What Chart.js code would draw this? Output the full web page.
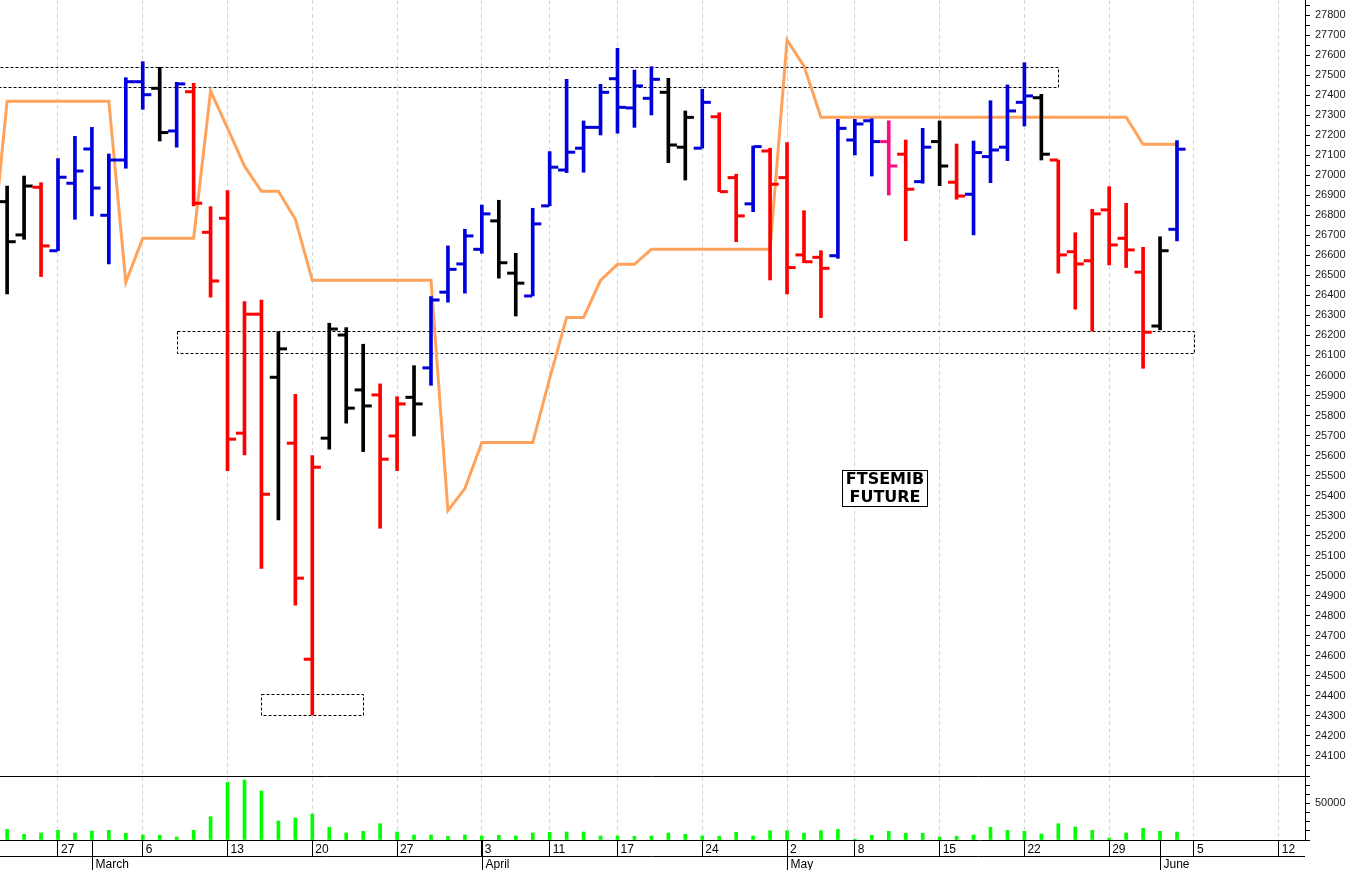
<!DOCTYPE html>
<html>
<head>
<meta charset="utf-8">
<title>FTSEMIB Future</title>
<script src="https://cdn.jsdelivr.net/npm/chart.js@4/dist/chart.umd.min.js"></script>
<style>
  html, body { margin: 0; padding: 0; background: #ffffff; }
  canvas { display: block; }
</style>
</head>
<body>
<canvas id="grafico" width="1352" height="870"></canvas>
<script>
// Sesiones del futuro FTSEMIB (22 feb - 2 jun)
const fechas = [
  "22/2","23/2","24/2","27/2","28/2",
  "1/3","2/3","3/3","6/3","7/3","8/3","9/3","10/3","13/3","14/3","15/3","16/3","17/3",
  "20/3","21/3","22/3","23/3","24/3","27/3","28/3","29/3","30/3","31/3",
  "3/4","4/4","5/4","6/4","11/4","12/4","13/4","14/4","17/4","18/4","19/4","20/4","21/4",
  "24/4","25/4","26/4","27/4","28/4",
  "2/5","3/5","4/5","5/5","8/5","9/5","10/5","11/5","12/5","15/5","16/5","17/5","18/5","19/5",
  "22/5","23/5","24/5","25/5","26/5","29/5","30/5","31/5",
  "1/6","2/6"
];

const aperturas = [
  26868, 26702, 26940, 26623, 26960, 27131, 26800, 27076, 27467, 27434,
  27221, 27417, 26715, 26785, 25712, 26306, 25991, 25662, 24583, 25687,
  26202, 25928, 25903, 25698, 25891, 26038, 26416, 26557, 26630, 26772,
  26511, 26397, 26847, 27026, 27135, 27239, 27482, 27336, 27384, 27414,
  27140, 27135, 27292, 26988, 26857, 27121, 26988, 26602, 26590, 26598,
  27176, 27272, 27168, 27105, 26968, 27168, 26965, 26905, 27093, 27140,
  27364, 27387, 27076, 26618, 26573, 26827, 26685, 26516, 26247, 26730
];
const maximos = [
  26946, 26996, 26963, 27083, 27194, 27239, 27106, 27487, 27567, 27539,
  27464, 27459, 26843, 26923, 26369, 26377, 26219, 25906, 25600, 26261,
  26239, 26156, 25958, 25894, 26049, 26394, 26647, 26730, 26851, 26875,
  26610, 26835, 27118, 27479, 27271, 27454, 27634, 27525, 27542, 27484,
  27321, 27429, 27312, 27005, 27146, 27135, 27163, 26823, 26623, 27279,
  27279, 27282, 27272, 27176, 27234, 27271, 27156, 27171, 27372, 27451,
  27562, 27404, 27076, 26713, 26830, 26943, 26860, 26640, 26693, 27173
];
const minimos = [
  26407, 26680, 26494, 26623, 26780, 26797, 26557, 27035, 27329, 27171,
  27140, 26847, 26391, 25525, 25603, 25036, 25279, 24853, 24305, 25632,
  25762, 25620, 25237, 25525, 25698, 25951, 26366, 26411, 26610, 26486,
  26297, 26397, 26847, 27013, 27015, 27201, 27210, 27239, 27301, 27063,
  26976, 27135, 26918, 26668, 26818, 26477, 26407, 26563, 26289, 26585,
  27101, 26996, 26901, 26673, 26960, 26948, 26880, 26702, 26963, 27073,
  27246, 27076, 26511, 26331, 26222, 26552, 26539, 26036, 26228, 26672
];
const cierres = [
  26668, 26946, 26647, 26990, 27021, 26936, 27076, 27467, 27402, 27213,
  27456, 26860, 26472, 25682, 26306, 25407, 26133, 24988, 25542, 26232,
  25837, 25848, 25582, 25858, 25858, 26377, 26530, 26697, 26807, 26563,
  26461, 26757, 27040, 27115, 27239, 27414, 27339, 27446, 27479, 27151,
  27289, 27364, 26918, 26797, 27143, 26955, 26539, 26568, 26535, 27234,
  27256, 27168, 27046, 26930, 27140, 27046, 26896, 27113, 27126, 27321,
  27396, 27105, 26602, 26557, 26807, 26652, 26627, 26216, 26623, 27130
];
// estado del indicador en cada barra
const estados = [
  "neutro","neutro","baja","alza","alza","alza","alza","alza","alza","neutro",
  "alza","baja","baja","baja","baja","baja","neutro","baja","baja","neutro",
  "neutro","neutro","baja","baja","neutro","alza","alza","alza","alza","neutro",
  "neutro","alza","alza","alza","alza","alza","alza","alza","alza","neutro",
  "neutro","alza","baja","baja","alza","baja","baja","baja","baja","alza",
  "alza","alza","especial","baja","alza","neutro","baja","alza","alza","alza",
  "alza","neutro","baja","baja","baja","baja","baja","baja","neutro","alza"
];
const volumenes = [
  14460, 7700, 9460, 13110, 9460, 12160, 13110, 9050, 6760, 6350,
  4050, 13110, 31490, 77980, 81080, 66220, 25680, 29730, 35140, 17160,
  9460, 11760, 22030, 10810, 6760, 6760, 5000, 6760, 5410, 6350,
  5410, 9460, 10410, 10810, 10810, 5410, 5410, 5000, 5410, 9460,
  7700, 5410, 5000, 10410, 5410, 12570, 12570, 9050, 12570, 14460,
  1350, 6350, 11760, 9050, 9050, 4050, 5000, 6760, 17160, 13110,
  11760, 8110, 22030, 17570, 13110, 2700, 9460, 15810, 11760, 10810
];

// linea naranja: empieza una sesion antes de la primera barra visible
const inicioTendencia = -1;
const tendencia = [
  26520,
  27370, 27370, 27370, 27370, 27370, 27370, 27370, 26465, 26685, 26685,
  26685, 26685, 27420, 27235, 27045, 26920, 26920, 26780, 26475, 26475,
  26475, 26475, 26475, 26475, 26475, 26475, 25325, 25435, 25665, 25665,
  25665, 25665, 25985, 26290, 26290, 26475, 26555, 26555, 26630, 26630,
  26630, 26630, 26630, 26630, 26630, 26630, 27675, 27545, 27290, 27290,
  27290, 27290, 27290, 27290, 27290, 27290, 27290, 27290, 27290, 27290,
  27290, 27290, 27290, 27290, 27290, 27290, 27290, 27155, 27155, 27155
];

// zonas marcadas con rectangulo punteado (indice de sesion y precios)
const zonaDesde = [-1, 10, 15];
const zonaHasta = [62, 70, 21];
const zonaTecho = [27540, 26220, 24410];
const zonaPiso = [27440, 26110, 24305];

// eje de fechas
const posicionesDia = [3, 8, 13, 18, 23, 28, 32, 36, 41, 46, 50, 55, 60, 65, 70, 75];
const etiquetasDia = ["27", "6", "13", "20", "27", "3", "11", "17", "24", "2", "8", "15", "22", "29", "5", "12"];
const posicionesMes = [5, 28, 46, 68];
const meses = ["March", "April", "May", "June"];
const marcaVolumen = 50000;

const titulo = ["FTSEMIB", "FUTURE"];
const tituloDia = 51.7;
const tituloPrecio = 25440;

console.log(fechas.length, aperturas.length, tendencia.length);

const coloresEstado = { alza: "#0000dd", baja: "#ff0000", neutro: "#000000", especial: "#ff0a80" };
const coloresBarras = estados.map((e) => coloresEstado[e]);
const desplazamiento = 0.27;

Chart.defaults.font.family = '"Liberation Sans", Arial, sans-serif';
Chart.defaults.color = "#111111";

// rectangulos punteados
const pluginZonas = {
  id: "zonas",
  beforeDatasetsDraw(chart) {
    const ctx = chart.ctx;
    const x = chart.scales.x;
    const y = chart.scales.y;
    const area = chart.chartArea;
    ctx.save();
    ctx.beginPath();
    ctx.rect(area.left, y.top, area.right - area.left, y.bottom - y.top);
    ctx.clip();
    ctx.strokeStyle = "#000000";
    ctx.lineWidth = 1;
    ctx.setLineDash([3, 2]);
    for (let i = 0; i < zonaDesde.length; i++) {
      const x1 = Math.round(x.getPixelForValue(zonaDesde[i])) + 0.5;
      const x2 = Math.round(x.getPixelForValue(zonaHasta[i])) + 0.5;
      const y1 = Math.round(y.getPixelForValue(zonaTecho[i])) + 0.5;
      const y2 = Math.round(y.getPixelForValue(zonaPiso[i])) + 0.5;
      ctx.strokeRect(x1, y1, x2 - x1, y2 - y1);
    }
    ctx.restore();
  }
};

// separador de paneles, fila de meses, etiqueta de volumen y cartel
const pluginMarco = {
  id: "marco",
  afterDraw(chart) {
    const ctx = chart.ctx;
    const x = chart.scales.x;
    const y = chart.scales.y;
    const yv = chart.scales.yv;
    const area = chart.chartArea;
    ctx.save();
    ctx.strokeStyle = "#000000";
    ctx.lineWidth = 1;

    const div = Math.round(yv.top) + 0.5;
    ctx.beginPath();
    ctx.moveTo(area.left, div);
    ctx.lineTo(area.right, div);
    const fila = Math.round(x.top) + 16.5;
    ctx.moveTo(area.left, fila);
    ctx.lineTo(area.right, fila);
    ctx.stroke();

    ctx.fillStyle = "#000000";
    ctx.font = '12px "Liberation Sans", Arial, sans-serif';
    ctx.textBaseline = "alphabetic";
    ctx.textAlign = "left";
    for (let i = 0; i < meses.length; i++) {
      const px = Math.round(x.getPixelForValue(posicionesMes[i])) + 0.5;
      ctx.beginPath();
      ctx.moveTo(px, x.top);
      ctx.lineTo(px, x.bottom);
      ctx.stroke();
      ctx.fillText(meses[i], px + 3, x.top + 28);
    }

    // etiqueta del panel de volumen
    ctx.fillStyle = "#1a1a1a";
    ctx.font = '11px "Liberation Sans", Arial, sans-serif';
    ctx.textBaseline = "middle";
    ctx.fillText(String(marcaVolumen), yv.left + 10, yv.getPixelForValue(marcaVolumen));

    // cartel del titulo
    const cx = Math.round(x.getPixelForValue(tituloDia));
    const cy = Math.round(y.getPixelForValue(tituloPrecio));
    ctx.fillStyle = "#ffffff";
    ctx.fillRect(cx - 42, cy - 18, 85, 36);
    ctx.strokeRect(cx - 42 + 0.5, cy - 18 + 0.5, 85, 36);
    ctx.fillStyle = "#000000";
    ctx.font = 'bold 16px "DejaVu Sans", Verdana, sans-serif';
    ctx.textAlign = "center";
    ctx.textBaseline = "middle";
    ctx.fillText(titulo[0], cx + 1, cy - 8);
    ctx.fillText(titulo[1], cx + 1, cy + 10);
    ctx.restore();
  }
};

const quitarRelleno = (s) => {
  s.paddingTop = 0;
  s.paddingBottom = 0;
  s.paddingLeft = 0;
  s.paddingRight = 0;
};

const grafico = document.getElementById("grafico");

new Chart(grafico, {
  type: "bar",
  data: {
    datasets: [
      {
        type: "bar",
        label: "rango",
        data: maximos.map((h, i) => ({ x: i, y: [minimos[i], h] })),
        backgroundColor: coloresBarras,
        barThickness: 3,
        grouped: false,
        yAxisID: "y",
        order: 1
      },
      {
        type: "scatter",
        label: "apertura",
        data: aperturas.map((v, i) => ({ x: i - desplazamiento, y: v })),
        pointStyle: "line",
        pointRadius: 4,
        pointHoverRadius: 4,
        pointBorderWidth: 3,
        pointBorderColor: coloresBarras,
        yAxisID: "y",
        order: 0
      },
      {
        type: "scatter",
        label: "cierre",
        data: cierres.map((v, i) => ({ x: i + desplazamiento, y: v })),
        pointStyle: "line",
        pointRadius: 4,
        pointHoverRadius: 4,
        pointBorderWidth: 3,
        pointBorderColor: coloresBarras,
        yAxisID: "y",
        order: 0
      },
      {
        type: "line",
        label: "tendencia",
        data: tendencia.map((v, i) => ({ x: i + inicioTendencia, y: v })),
        borderColor: "#ffa35c",
        borderWidth: 3,
        pointRadius: 0,
        tension: 0,
        fill: false,
        yAxisID: "y",
        order: 5
      },
      {
        type: "bar",
        label: "volumen",
        data: volumenes.map((v, i) => ({ x: i, y: v })),
        backgroundColor: "#00ff00",
        barThickness: 3,
        grouped: false,
        yAxisID: "yv",
        order: 1
      }
    ]
  },
  options: {
    responsive: false,
    animation: false,
    events: [],
    layout: { padding: 0, autoPadding: false },
    plugins: {
      legend: { display: false },
      tooltip: { enabled: false }
    },
    scales: {
      x: {
        type: "linear",
        position: "bottom",
        min: -0.42,
        max: 76.55,
        offset: false,
        afterBuildTicks: (s) => {
          s.ticks = posicionesDia.map((v) => ({ value: v }));
        },
        afterFit: (s) => {
          s.height = 30;
          quitarRelleno(s);
        },
        grid: {
          color: "#d4d4d4",
          lineWidth: 1,
          offset: false,
          drawTicks: true,
          tickLength: 16,
          tickColor: "#000000",
          tickWidth: 1,
          tickBorderDash: []
        },
        border: { display: true, color: "#000000", width: 1, dash: [4, 3] },
        ticks: {
          autoSkip: false,
          maxRotation: 0,
          align: "start",
          labelOffset: 3,
          padding: -14,
          color: "#000000",
          font: { size: 12 },
          callback: (v, i) => etiquetasDia[i]
        }
      },
      y: {
        type: "linear",
        position: "right",
        stack: "paneles",
        stackWeight: 776,
        min: 24000,
        max: 27875,
        beginAtZero: false,
        offset: false,
        afterFit: (s) => {
          s.width = 47;
          quitarRelleno(s);
        },
        grid: { drawOnChartArea: false, drawTicks: true, tickLength: 5, tickColor: "#000000", tickWidth: 1 },
        border: { display: true, color: "#000000", width: 1 },
        ticks: {
          stepSize: 50,
          autoSkip: false,
          includeBounds: false,
          padding: 5,
          color: "#1a1a1a",
          font: { size: 11 },
          callback: (v) => (v % 100 === 0 && v >= 24100 ? String(v) : "")
        }
      },
      yv: {
        type: "linear",
        position: "right",
        stack: "paneles",
        stackWeight: 64,
        min: 0,
        max: 86500,
        offset: false,
        afterFit: (s) => {
          s.width = 47;
          quitarRelleno(s);
        },
        grid: { drawOnChartArea: false, drawTicks: true, tickLength: 5, tickColor: "#000000", tickWidth: 1 },
        border: { display: true, color: "#000000", width: 1 },
        ticks: {
          stepSize: 12500,
          autoSkip: false,
          includeBounds: false,
          display: false
        }
      }
    }
  },
  plugins: [pluginZonas, pluginMarco]
});
</script>
</body>
</html>
